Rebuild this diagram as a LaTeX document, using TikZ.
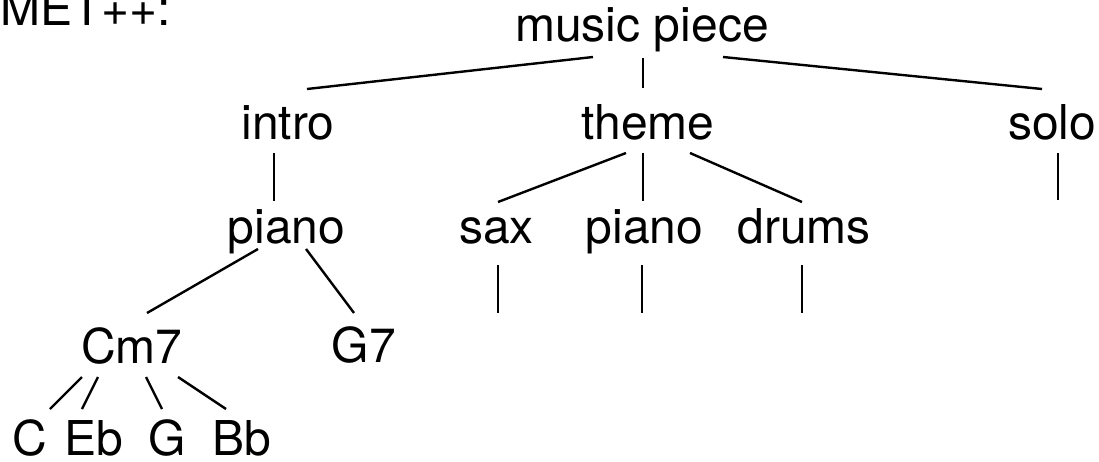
\documentclass[tikz,border=0pt]{standalone}
\usepackage{fontspec}
\setmainfont{TeX Gyre Heros}
\begin{document}
\begin{tikzpicture}[x=1pt,y=-1pt,
  lbl/.style={anchor=base,inner sep=0pt,font=\fontsize{48}{58}\selectfont},
  edge/.style={line width=2.4pt,black}]
\useasboundingbox (0,0) rectangle (1099,461);
\node[lbl,anchor=base west] (met) at (0,25) {MET++:};
\node[lbl] (mp) at (642,41) {music piece};
\node[lbl] (intro) at (288,139) {intro};
\node[lbl] (theme) at (648,139) {theme};
\node[lbl] (solo) at (1052,139) {solo};
\node[lbl] (pianoA) at (286.5,243) {piano};
\node[lbl] (sax) at (496.5,243) {sax};
\node[lbl] (pianoB) at (644.5,243) {piano};
\node[lbl] (drums) at (804,243) {drums};
\node[lbl] (cm) at (132,363) {Cm7};
\node[lbl] (gs) at (364,362) {G7};
\node[lbl] (c) at (30,455) {C};
\node[lbl] (eb) at (94,455) {Eb};
\node[lbl] (g) at (167.5,455) {G};
\node[lbl] (bb) at (241.5,455) {Bb};
\coordinate (soloEnd) at (1058,200);
\coordinate (saxEnd) at (498,313);
\coordinate (pianoBEnd) at (642,313);
\coordinate (drumsEnd) at (802,313);
\draw[edge] ([shift={(-49,16)}]mp.base) -- ([shift={(19,-50)}]intro.base);
\draw[edge] ([shift={(1,17)}]mp.base) -- ([shift={(-5,-51)}]theme.base);
\draw[edge] ([shift={(81,16)}]mp.base) -- ([shift={(-10,-50)}]solo.base);
\draw[edge] ([shift={(-14,14)}]intro.base) -- ([shift={(-12.5,-42)}]pianoA.base);
\draw[edge] ([shift={(-22,14)}]theme.base) -- ([shift={(1.5,-41)}]sax.base);
\draw[edge] ([shift={(-5,14)}]theme.base) -- ([shift={(-1.5,-42)}]pianoB.base);
\draw[edge] ([shift={(42,14)}]theme.base) -- ([shift={(-2,-41)}]drums.base);
\draw[edge] ([shift={(6,14)}]solo.base) -- (soloEnd);
\draw[edge] ([shift={(1.5,22)}]sax.base) -- (saxEnd);
\draw[edge] ([shift={(-2.5,22)}]pianoB.base) -- (pianoBEnd);
\draw[edge] ([shift={(-2,22)}]drums.base) -- (drumsEnd);
\draw[edge] ([shift={(-28.5,6)}]pianoA.base) -- ([shift={(15,-50)}]cm.base);
\draw[edge] ([shift={(19.5,6)}]pianoA.base) -- ([shift={(-10,-49)}]gs.base);
\draw[edge] ([shift={(-50,14)}]cm.base) -- ([shift={(20,-46)}]c.base);
\draw[edge] ([shift={(-34,14)}]cm.base) -- ([shift={(-12,-46)}]eb.base);
\draw[edge] ([shift={(14,14)}]cm.base) -- ([shift={(-5.5,-46)}]g.base);
\draw[edge] ([shift={(46,14)}]cm.base) -- ([shift={(-15.5,-46)}]bb.base);
\end{tikzpicture}
\end{document}
